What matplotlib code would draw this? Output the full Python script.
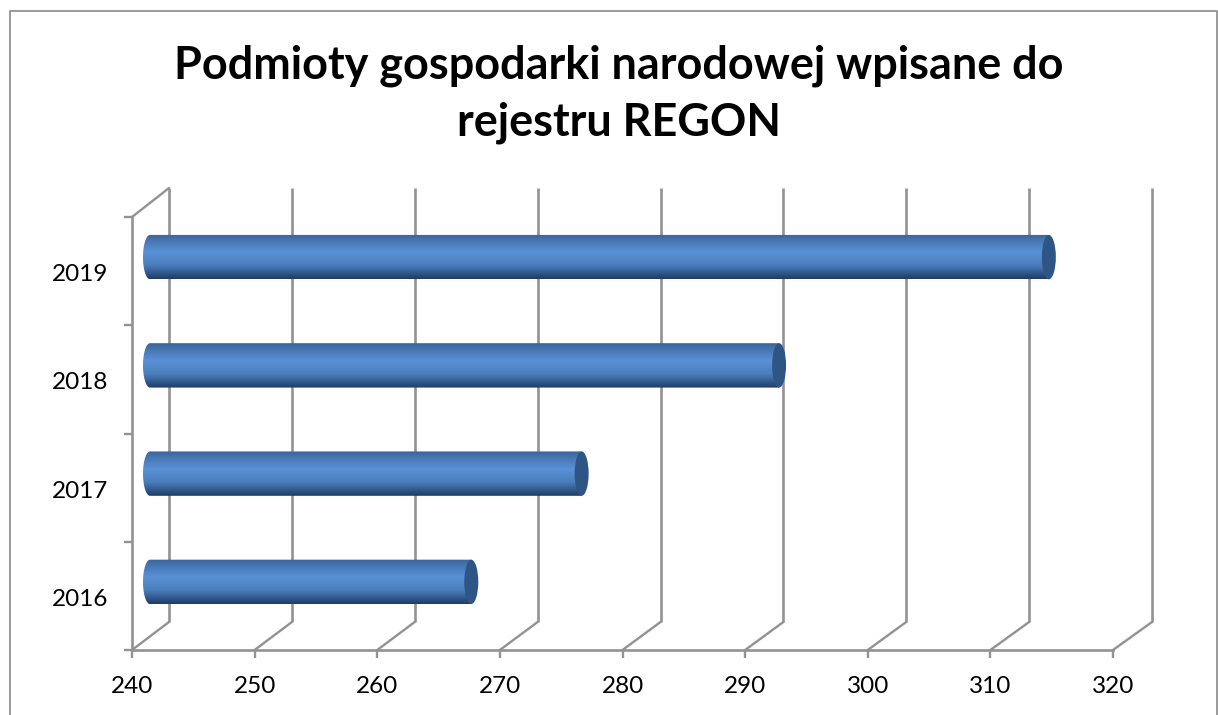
import numpy as np
import matplotlib as mpl
import matplotlib.pyplot as plt
from matplotlib.colors import LinearSegmentedColormap
from matplotlib.lines import Line2D
from matplotlib.patches import ConnectionPatch, Ellipse, PathPatch
from matplotlib.path import Path
from matplotlib.transforms import ScaledTranslation

mpl.use("Agg")

years = ["2016", "2017", "2018", "2019"]
values = [266.2, 275.2, 291.3, 313.3]
x_ticks = [240, 250, 260, 270, 280, 290, 300, 310, 320]
title = "Podmioty gospodarki narodowej wpisane do\nrejestru REGON"

W, H, DPI = 1218, 715, 100
GREY = "#929292"
CAP = "#2f5585"

plt.rcParams["font.family"] = ["Lato", "DejaVu Sans"]

fig = plt.figure(figsize=(W / DPI, H / DPI), dpi=DPI)
ax = fig.add_axes([132 / W, (H - 650) / H, 981 / W, 433 / H])
# back wall of the fake 3D box, same scales as the front
ax_back = fig.add_axes([169 / W, (H - 622) / H, 983 / W, 434 / H], zorder=-1)

n = len(years)
for a in (ax, ax_back):
    a.set_xlim(240, 320)
    a.set_ylim(0, n)
ax_back.axis("off")

mid = ax.transData + ScaledTranslation(18 / DPI, 14 / DPI, fig.dpi_scale_trans)

for t in x_ticks:
    ax_back.plot([t, t], [0, n], color=GREY, lw=1.9, clip_on=False, solid_capstyle="butt")
    fig.add_artist(ConnectionPatch((t, 0), (t, 0), ax.transData, ax_back.transData,
                                   color=GREY, lw=1.7, zorder=1))
fig.add_artist(ConnectionPatch((240, n), (240, n), ax.transData, ax_back.transData,
                               color=GREY, lw=1.7, zorder=1))

shade = LinearSegmentedColormap.from_list(
    "cyl",
    [(0.0, "#3a659b"), (0.15, "#4877b2"), (0.4, "#5a92d7"), (0.7, "#4a7cb9"),
     (0.88, "#2f5688"), (1.0, "#1f3c64")],
)
grad = np.linspace(0, 1, 128).reshape(-1, 1)

bar_h = 0.41
cap_w = 14 / (981 / 80)
for i, v in enumerate(values):
    yc = i + 0.5
    y0, y1 = yc - bar_h / 2, yc + bar_h / 2
    # body outline: rounded on the left, open on the right
    th = np.linspace(np.pi / 2, 3 * np.pi / 2, 40)
    xs = 240 + cap_w / 2 * np.cos(th)
    ys = yc + bar_h / 2 * np.sin(th)
    verts = np.column_stack([np.r_[v, xs, v, v], np.r_[y1, ys, y0, y1]])
    outline = PathPatch(Path(verts), transform=mid, fc="none", ec="none", zorder=3)
    ax.add_patch(outline)
    im = ax.imshow(grad, cmap=shade, extent=[239, v, y0, y1], aspect="auto",
                   origin="upper", transform=mid, zorder=3)
    im.set_clip_path(outline)
    ax.add_patch(Ellipse((v, yc), cap_w, bar_h, transform=mid, fc=CAP, ec="none",
                         clip_on=False, zorder=4))

ax.set_xticks(x_ticks)
ax.set_yticks(range(n + 1))
ax.set_yticklabels([])
# labels sit a little under the middle of each band
ax.set_yticks([i + 0.485 for i in range(n)], labels=years, minor=True)
ax.tick_params(axis="x", which="major", length=5.5, width=1.7, color=GREY,
               labelsize=17.5, pad=13.5, labelcolor="black")
ax.tick_params(axis="y", which="major", length=5.5, width=1.7, color=GREY)
ax.tick_params(axis="y", which="minor", length=0, labelsize=17.5, pad=17)
ax.patch.set_visible(False)
for side in ("top", "right"):
    ax.spines[side].set_visible(False)
for side in ("left", "bottom"):
    ax.spines[side].set_color(GREY)
    ax.spines[side].set_linewidth(1.9)

fig.text(619 / W, (H - 94.5) / H, title, ha="center", va="center", fontsize=32.4,
         fontweight="bold", color="black", linespacing=1.42)

# chart area border
fig.add_artist(Line2D([10 / W, 10 / W, 1217 / W, 1217 / W], [0, (H - 11) / H, (H - 11) / H, 0],
                      color=GREY, lw=1.3))

fig.savefig("out.png", dpi=DPI)
